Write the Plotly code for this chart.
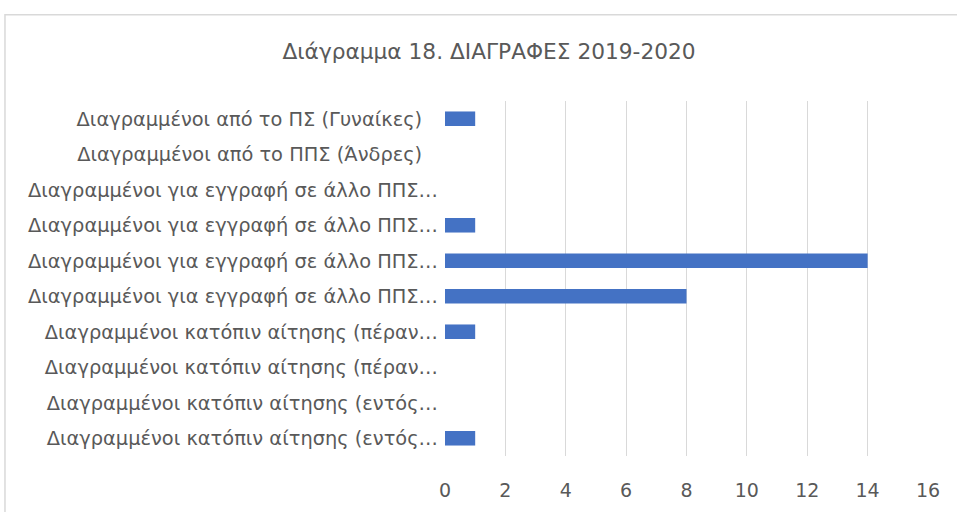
import plotly.graph_objects as go

categories = [
    "Διαγραμμένοι από το ΠΣ (Γυναίκες)\u2002\u00a0",
    "Διαγραμμένοι από το ΠΠΣ (Άνδρες)\u2002\u00a0",
    "Διαγραμμένοι για εγγραφή σε άλλο ΠΠΣ…",
    "Διαγραμμένοι για εγγραφή σε άλλο ΠΠΣ…",
    "Διαγραμμένοι για εγγραφή σε άλλο ΠΠΣ…",
    "Διαγραμμένοι για εγγραφή σε άλλο ΠΠΣ…",
    "Διαγραμμένοι κατόπιν αίτησης (πέραν…",
    "Διαγραμμένοι κατόπιν αίτησης (πέραν…",
    "Διαγραμμένοι κατόπιν αίτησης (εντός…",
    "Διαγραμμένοι κατόπιν αίτησης (εντός…",
]
values = [1, 0, 0, 1, 14, 8, 1, 0, 0, 1]
x_ticks = [0, 2, 4, 6, 8, 10, 12, 14, 16]
positions = list(range(len(categories)))

fig = go.Figure(go.Bar(
    y=positions, x=values, orientation="h",
    marker=dict(color="#4472C4", line=dict(width=0)),
))

FONT = "DejaVu Sans, sans-serif"
TXT = "#595959"
fig.update_layout(
    width=957, height=512,
    margin=dict(l=445, r=29, t=101, b=56),
    paper_bgcolor="white", plot_bgcolor="white",
    bargap=0.59,
    showlegend=False,
    font=dict(family=FONT, color=TXT, size=19),
    title=dict(text="Διάγραμμα 18. ΔΙΑΓΡΑΦΕΣ 2019-2020", x=489/957, xanchor="center",
               y=1 - 51/512, yanchor="middle",
               xref="container", yref="container",
               font=dict(size=21.7, color=TXT, family=FONT)),
    xaxis=dict(range=[0, 16], tickvals=x_ticks, showgrid=True, gridcolor="#d9d9d9",
               gridwidth=1, zeroline=False, showline=False, ticks="",
               automargin=False,
               ticklabelstandoff=21, tickfont=dict(size=19, color=TXT)),
    yaxis=dict(tickvals=positions, ticktext=categories, range=[9.5, -0.5],
               showgrid=False, zeroline=False, automargin=False,
               showline=False, ticks="", ticklabelstandoff=6,
               tickfont=dict(size=19.4, color=TXT)),
    shapes=[dict(type="rect", xref="paper", yref="paper",
                 x0=-0.911, x1=1.3, y0=-0.4, y1=(455 - 15) / 354,
                 line=dict(color="#d9d9d9", width=1.5), fillcolor="rgba(0,0,0,0)",
                 layer="below")],
)

fig.write_html(
    "out.html",
    config={"displayModeBar": False},
    post_script="document.body.style.margin='0';document.body.style.overflow='hidden';",
)
